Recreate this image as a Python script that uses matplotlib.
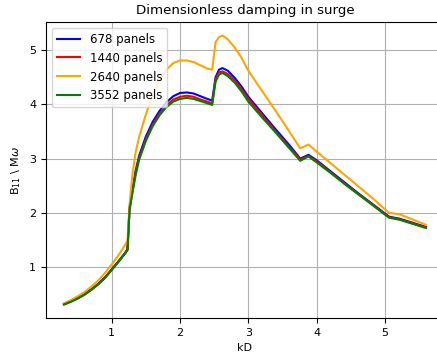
import numpy as np
import matplotlib
matplotlib.use('Agg')
import matplotlib.pyplot as plt

plt.rcParams['font.size'] = 8
plt.rcParams['axes.titlesize'] = 9.6
plt.rcParams['legend.fontsize'] = 8.5
plt.rcParams['lines.linewidth'] = 1.5
plt.rcParams['grid.linewidth'] = 0.8
plt.rcParams['axes.linewidth'] = 0.8

# wave number times depth
kD = [0.3, 0.4, 0.5, 0.6, 0.7, 0.8, 0.9, 1.0, 1.1, 1.2, 1.23, 1.26, 1.3,
      1.35, 1.4, 1.5, 1.6, 1.7, 1.8, 1.9, 2.0, 2.1, 2.2, 2.3, 2.4, 2.47,
      2.52, 2.57, 2.62, 2.7, 2.8, 2.9, 3.0, 3.2, 3.4, 3.6, 3.76, 3.88,
      4.0, 4.2, 4.4, 4.6, 4.8, 5.06, 5.22, 5.6]

# dimensionless surge damping for each mesh
b11_678 = [0.32, 0.37, 0.43, 0.50, 0.59, 0.69, 0.81, 0.96, 1.11, 1.27, 1.33,
           2.10, 2.42, 2.78, 3.05, 3.41, 3.68, 3.88, 4.04, 4.15, 4.21, 4.22,
           4.20, 4.15, 4.10, 4.07, 4.50, 4.64, 4.67, 4.62, 4.49, 4.33, 4.14,
           3.84, 3.54, 3.25, 3.00, 3.07, 2.97, 2.77, 2.57, 2.37, 2.18, 1.93,
           1.89, 1.74]
b11_1440 = [0.31, 0.36, 0.42, 0.49, 0.58, 0.68, 0.80, 0.95, 1.10, 1.26, 1.32,
            2.07, 2.38, 2.74, 3.01, 3.36, 3.63, 3.83, 3.98, 4.09, 4.14, 4.16,
            4.14, 4.09, 4.05, 4.02, 4.46, 4.59, 4.61, 4.56, 4.44, 4.28, 4.10,
            3.80, 3.50, 3.21, 2.98, 3.05, 2.95, 2.75, 2.55, 2.36, 2.17, 1.92,
            1.88, 1.73]
b11_2640 = [0.33, 0.39, 0.46, 0.54, 0.64, 0.75, 0.89, 1.05, 1.22, 1.42, 1.49,
            2.15, 2.68, 3.12, 3.40, 3.82, 4.18, 4.46, 4.64, 4.76, 4.81, 4.81,
            4.78, 4.72, 4.66, 4.64, 5.15, 5.24, 5.27, 5.20, 5.05, 4.86, 4.62,
            4.25, 3.88, 3.50, 3.19, 3.26, 3.13, 2.92, 2.71, 2.50, 2.29, 2.00,
            1.97, 1.78]
b11_3552 = [0.31, 0.36, 0.42, 0.49, 0.58, 0.68, 0.80, 0.95, 1.10, 1.26, 1.31,
            2.05, 2.35, 2.70, 2.98, 3.33, 3.60, 3.80, 3.95, 4.05, 4.10, 4.12,
            4.10, 4.06, 4.02, 3.99, 4.42, 4.55, 4.58, 4.52, 4.40, 4.24, 4.05,
            3.76, 3.48, 3.19, 2.96, 3.04, 2.93, 2.74, 2.54, 2.35, 2.16, 1.91,
            1.87, 1.72]

fig = plt.figure(figsize=(4.37, 3.56), dpi=100)
ax = fig.add_axes([0.105, 0.107, 0.911, 0.831])

ax.plot(kD, b11_678, color='blue', label='678 panels')
ax.plot(kD, b11_1440, color='red', label='1440 panels')
ax.plot(kD, b11_2640, color='orange', label='2640 panels')
ax.plot(kD, b11_3552, color='green', label='3552 panels')

ax.set_title('Dimensionless damping in surge')
ax.set_xlabel('kD')
ax.set_ylabel(r'B$_{11}$ \ M$\omega$')
ax.set_xticks([1, 2, 3, 4, 5])
ax.set_yticks([1, 2, 3, 4, 5])
ax.grid(True)
ax.legend(loc='upper left')

fig.savefig('out.png', dpi=100)
